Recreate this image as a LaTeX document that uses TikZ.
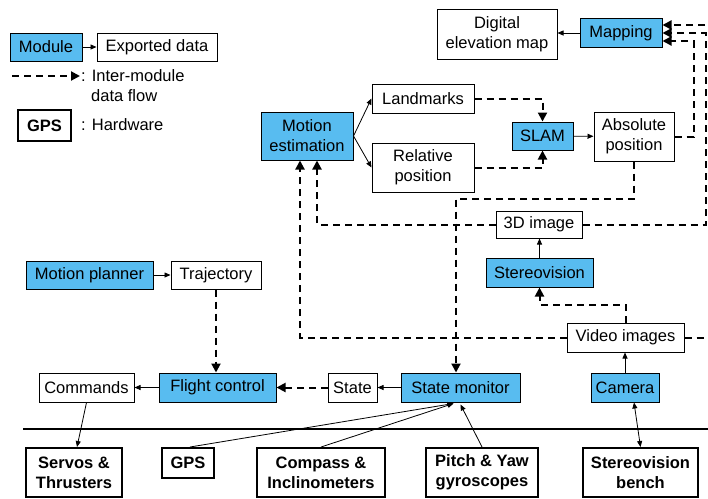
\documentclass[tikz,border=0pt]{standalone}
\usepackage{fontspec}
\setmainfont{Liberation Sans}
\usetikzlibrary{arrows.meta,calc}
\definecolor{modblue}{RGB}{88,188,240}
\newcommand{\fs}{\fontsize{16.5}{20}\selectfont}
\tikzset{
  base/.style={inner sep=0pt, align=center, font=\fs},
  mod/.style={base, draw=black, line width=1pt, fill=modblue},
  dat/.style={base, draw=black, line width=1pt, fill=white},
  hw/.style={base, draw=black, line width=2pt, fill=white, font=\fs\bfseries},
  lbl/.style={inner sep=0pt, anchor=west, font=\fs},
  sarr/.style={line width=0.8pt, -{Triangle[length=6pt,width=5pt]}},
  sarr2/.style={line width=0.8pt, {Triangle[length=6pt,width=5pt]}-{Triangle[length=6pt,width=5pt]}},
  darr/.style={line width=2pt, dash pattern=on 7pt off 5pt, -{Triangle[length=9pt,width=9pt]}},
  sz/.style 2 args={minimum width=#1pt, minimum height=#2pt},
}
\begin{document}
\begin{tikzpicture}[x=1pt,y=-1pt]
\useasboundingbox[fill=white] (0,0) rectangle (708,498);
\clip (0,0) rectangle (708,498);
% legend
\node[mod, sz={72}{28}] (legmod) at (46,47) {Module};
\node[dat, sz={120}{28}] (legdat) at (157,47) {Exported data};
\coordinate (lg1) at (12,76);
\coordinate (lg2) at (80,76);
\node[lbl] (legtxt1) at (81,76) {: Inter-module};
\node[lbl] (legtxt2) at (91,96) {data flow};
\node[hw, sz={53}{31}] (leghw) at (44.5,125.5) {GPS};
\node[lbl] (legtxt3) at (81,125) {: Hardware};
% modules and data
\node[dat, sz={120}{50}] (dem) at (497,34) {Digital\\elevation map};
\node[mod, sz={82}{29}] (mapping) at (621,33) {Mapping};
\node[mod, sz={92}{48}] (me) at (307,136) {Motion\\estimation};
\node[dat, sz={102}{29}] (landmarks) at (423,98.5) {Landmarks};
\node[dat, sz={102}{49}] (relpos) at (423,167.5) {Relative\\position};
\node[mod, sz={61}{28}] (slam) at (542.5,136) {SLAM};
\node[dat, sz={80}{49}] (abspos) at (634,136.5) {Absolute\\position};
\node[mod, sz={127}{28}] (planner) at (89.5,275) {Motion planner};
\node[dat, sz={90}{28}] (traj) at (216,275) {Trajectory};
\node[dat, sz={86}{27}] (img3d) at (539,224.5) {3D image};
\node[mod, sz={107}{29}] (stereo) at (539.5,272.5) {Stereovision};
\node[dat, sz={117}{29}] (video) at (625.5,337.5) {Video images};
\node[dat, sz={95}{29}] (commands) at (86.5,387.5) {Commands};
\node[mod, sz={117}{29}] (flight) at (217.5,387.5) {Flight control};
\node[dat, sz={49}{29}] (state) at (352.5,387.5) {State};
\node[mod, sz={119}{29}] (statemon) at (460.5,387.5) {State monitor};
\node[mod, sz={68}{29}] (camera) at (625,387.5) {Camera};
% hardware
\node[hw, sz={96}{49}] (servos) at (74,472.5) {Servos \&\\Thrusters};
\node[hw, sz={52}{30}] (gps) at (188,463) {GPS};
\node[hw, sz={128}{49}] (compass) at (321,472.5) {Compass \&\\Inclinometers};
\node[hw, sz={112}{49}] (pitch) at (482,472.5) {Pitch \& Yaw\\gyroscopes};
\node[hw, sz={115}{49}] (bench) at (640.5,472.5) {Stereovision\\bench};
\coordinate (hl1) at (23,429);
\coordinate (hl2) at (720,429);
\draw[line width=2pt] (hl1) -- (hl2);
% legend connectors
\draw[sarr] (legmod) -- (legdat);
\draw[darr] (lg1) -- (lg2);
% solid arrows
\draw[sarr] (mapping.west) -- (mapping.west -| dem.east);
\draw[sarr] (me.east) -- (landmarks.west);
\draw[sarr] (me.east) -- (relpos.west);
\draw[sarr] (slam) -- (abspos);
\draw[sarr] (planner) -- (traj);
\draw[sarr] (stereo.north) -- (stereo.north |- img3d.south);
\draw[sarr] (camera.north) -- (camera.north |- video.south);
\draw[sarr] (statemon) -- (state);
\draw[sarr] (flight) -- (commands);
\draw[sarr] (commands.south) -- ($(servos.north)+(3,0)$);
\draw[sarr] ($(gps.north)+(2,0)$) -- ($(statemon.south)+(-7,1)$);
\draw[sarr] (compass.north) -- ($(statemon.south)+(-7,1)$);
\draw[sarr] (pitch.north) -- ($(statemon.south)+(0,2)$);
\draw[sarr2] (bench.north) -- ($(camera.south)+(9,0)$);
% dashed data flows
\draw[darr] (landmarks.east) -| (slam.north);
\draw[darr] (relpos.east) -| (slam.south);
\draw[darr] (abspos.east) -| ($(mapping.east)+(31,8)$) -- ($(mapping.east)+(0,8)$);
\draw[darr] (img3d.east) -| ($(mapping.east)+(43,0)$) -- (mapping.east);
\draw[darr] (video.east) -| ($(mapping.east)+(56,-8)$) -- ($(mapping.east)+(0,-8)$);
\draw[darr] (abspos.south) |- ($(statemon.north)+(-4.5,-174)$) -- ($(statemon.north)+(-4.5,0)$);
\draw[darr] (video.west) -| ($(me.south)+(-7,0)$);
\draw[darr] (img3d.west) -| ($(me.south)+(10,0)$);
\draw[darr] (video.north) |- ($(stereo.south)+(0,17)$) -- (stereo.south);
\draw[darr] (traj.south) -- (traj.south |- flight.north);
\draw[darr] (state) -- (flight);
\end{tikzpicture}
\end{document}
